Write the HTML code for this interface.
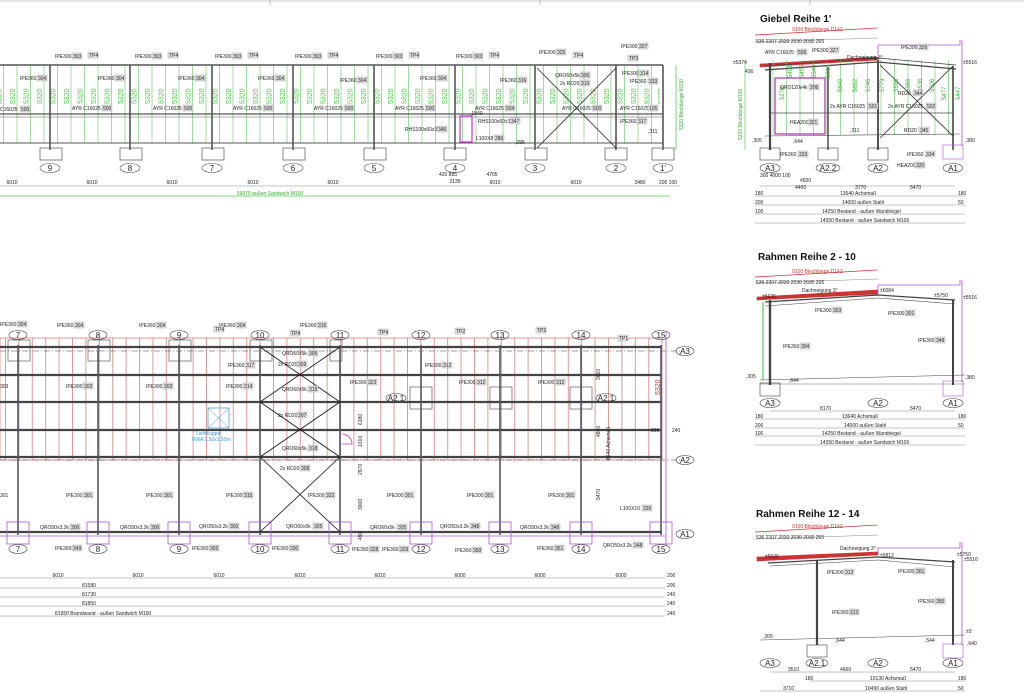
<!DOCTYPE html>
<html><head><meta charset="utf-8"><style>
html,body{margin:0;padding:0;background:#fff;width:1024px;height:693px;overflow:hidden}
svg{display:block;font-family:"Liberation Sans",sans-serif}
.t{font-size:5px;fill:#222}
.b{fill:#e4e4e4;stroke:#999;stroke-width:.4}
.g{fill:#4c4;font-size:7px}
</style></head><body>
<svg width="1024" height="693" viewBox="0 0 1024 693" xmlns="http://www.w3.org/2000/svg">
<defs>
<pattern id="gv" x="3" y="0" width="13.5" height="10" patternUnits="userSpaceOnUse"><line x1="0.5" y1="0" x2="0.5" y2="10" stroke="#7c7" stroke-width=".7"/></pattern>
<pattern id="rv" x="5" y="0" width="13.4" height="10" patternUnits="userSpaceOnUse"><line x1="0.5" y1="0" x2="0.5" y2="10" stroke="#c55" stroke-width=".6"/></pattern>
<pattern id="g53" x="6" y="70" width="13.5" height="40" patternUnits="userSpaceOnUse"><text transform="translate(9,34) rotate(-90)" class="g">5320</text></pattern>
</defs>
<line x1="0" y1="1" x2="1024" y2="1" stroke="#999" stroke-width=".6"/>
<g stroke="#999" stroke-width=".6"><line x1="270" y1="0" x2="270" y2="5"/><line x1="540" y1="0" x2="540" y2="5"/><line x1="810" y1="0" x2="810" y2="5"/></g>

<!-- ===== TOP ELEVATION ===== -->
<rect x="0" y="65" width="663" height="78" fill="url(#gv)"/>
<rect x="0" y="72" width="660" height="36" fill="url(#g53)"/>
<g stroke="#555" fill="none">
<line x1="0" y1="65" x2="663" y2="65" stroke-width="1.6"/>
<line x1="0" y1="114" x2="663" y2="114" stroke-width="1.2"/>
<line x1="0" y1="117" x2="663" y2="117" stroke-width=".5"/>
<line x1="0" y1="143" x2="663" y2="143" stroke-width="1"/>
<g stroke-width="1.6"><line x1="50" y1="65" x2="50" y2="150"/><line x1="130" y1="65" x2="130" y2="150"/><line x1="212" y1="65" x2="212" y2="150"/><line x1="293" y1="65" x2="293" y2="150"/><line x1="374" y1="65" x2="374" y2="150"/><line x1="455" y1="65" x2="455" y2="150"/><line x1="535" y1="65" x2="535" y2="150"/><line x1="616" y1="65" x2="616" y2="150"/><line x1="663" y1="65" x2="663" y2="150"/></g>
<g stroke-width=".7"><rect x="40" y="148" width="22" height="12"/><rect x="120" y="148" width="22" height="12"/><rect x="202" y="148" width="22" height="12"/><rect x="283" y="148" width="22" height="12"/><rect x="364" y="148" width="22" height="12"/><rect x="444" y="148" width="22" height="12"/><rect x="525" y="148" width="22" height="12"/><rect x="605" y="148" width="22" height="12"/><rect x="652" y="148" width="22" height="12"/></g>
<g stroke="#222" stroke-width=".8"><line x1="537" y1="68" x2="616" y2="148"/><line x1="616" y1="68" x2="537" y2="148"/></g>
<rect x="460" y="116" width="12" height="26" stroke="#c3c" stroke-width="1.2"/>
<g stroke-width=".6"><ellipse cx="50" cy="168" rx="10" ry="4.5"/><ellipse cx="130" cy="168" rx="10" ry="4.5"/><ellipse cx="212" cy="168" rx="10" ry="4.5"/><ellipse cx="293" cy="168" rx="10" ry="4.5"/><ellipse cx="374" cy="168" rx="10" ry="4.5"/><ellipse cx="455" cy="168" rx="10" ry="4.5"/><ellipse cx="535" cy="168" rx="10" ry="4.5"/><ellipse cx="616" cy="168" rx="10" ry="4.5"/><ellipse cx="663" cy="168" rx="10" ry="4.5"/></g>
<line x1="0" y1="186" x2="680" y2="186" stroke-width=".5" stroke="#888"/>
<line x1="0" y1="196" x2="670" y2="196" stroke="#5c5" stroke-width=".8"/>
<line x1="676" y1="65" x2="676" y2="150" stroke="#5c5" stroke-width=".8"/>
</g>
<g font-size="8" text-anchor="middle" fill="#222"><text x="50" y="171">9</text><text x="130" y="171">8</text><text x="212" y="171">7</text><text x="293" y="171">6</text><text x="374" y="171">5</text><text x="455" y="171">4</text><text x="535" y="171">3</text><text x="616" y="171">2</text><text x="663" y="171">1'</text></g>
<g class="t" text-anchor="middle"><text x="12" y="184">6010</text><text x="92" y="184">6010</text><text x="172" y="184">6010</text><text x="253" y="184">6010</text><text x="333" y="184">6010</text><text x="495" y="184">6010</text><text x="576" y="184">6010</text><text x="640" y="184">3480</text><text x="668" y="184">200 100</text><text x="448" y="176">420  885</text><text x="492" y="176">4705</text><text x="455" y="183">2135</text><text x="270" y="195" fill="#3a3">59070 außen Sandwich M100</text></g>
<g class="t">
<text x="55" y="58">IPE300</text><rect class="b" x="72" y="53" width="10" height="6"/><text x="73" y="58">303</text><rect class="b" x="88" y="52" width="10" height="6"/><text x="89" y="57">TP4</text>
<text x="135" y="58">IPE300</text><rect class="b" x="152" y="53" width="10" height="6"/><text x="153" y="58">303</text><rect class="b" x="168" y="52" width="10" height="6"/><text x="169" y="57">TP4</text>
<text x="215" y="58">IPE300</text><rect class="b" x="232" y="53" width="10" height="6"/><text x="233" y="58">303</text><rect class="b" x="248" y="52" width="10" height="6"/><text x="249" y="57">TP4</text>
<text x="295" y="58">IPE300</text><rect class="b" x="312" y="53" width="10" height="6"/><text x="313" y="58">303</text><rect class="b" x="328" y="52" width="10" height="6"/><text x="329" y="57">TP4</text>
<text x="376" y="58">IPE300</text><rect class="b" x="393" y="53" width="10" height="6"/><text x="394" y="58">303</text><rect class="b" x="409" y="52" width="10" height="6"/><text x="410" y="57">TP4</text>
<text x="456" y="58">IPE300</text><rect class="b" x="473" y="53" width="10" height="6"/><text x="474" y="58">303</text><rect class="b" x="489" y="52" width="10" height="6"/><text x="490" y="57">TP4</text>
<text x="539" y="54">IPE300</text><rect class="b" x="556" y="49" width="10" height="6"/><text x="557" y="54">325</text><rect class="b" x="573" y="52" width="10" height="6"/><text x="574" y="57">TP4</text>
<text x="621" y="48">IPE300</text><rect class="b" x="638" y="43" width="10" height="6"/><text x="639" y="48">327</text><rect class="b" x="628" y="55" width="10" height="6"/><text x="629" y="60">TP3</text>
<text x="20" y="80">IPE360</text><rect class="b" x="37" y="75" width="10" height="6"/><text x="38" y="80">304</text>
<text x="98" y="80">IPE360</text><rect class="b" x="115" y="75" width="10" height="6"/><text x="116" y="80">304</text>
<text x="178" y="80">IPE360</text><rect class="b" x="195" y="75" width="10" height="6"/><text x="196" y="80">304</text>
<text x="258" y="80">IPE360</text><rect class="b" x="275" y="75" width="10" height="6"/><text x="276" y="80">304</text>
<text x="340" y="82">IPE360</text><rect class="b" x="357" y="77" width="10" height="6"/><text x="358" y="82">304</text>
<text x="420" y="80">IPE360</text><rect class="b" x="437" y="75" width="10" height="6"/><text x="438" y="80">304</text>
<text x="500" y="82">IPE360</text><rect class="b" x="517" y="77" width="10" height="6"/><text x="518" y="82">316</text>
<text x="555" y="77">QRO60x5k</text><rect class="b" x="580" y="72" width="10" height="6"/><text x="581" y="77">305</text>
<text x="560" y="85">2x RD20</text><rect class="b" x="580" y="80" width="10" height="6"/><text x="581" y="85">310</text>
<text x="622" y="75">IPE300</text><rect class="b" x="639" y="70" width="10" height="6"/><text x="640" y="75">314</text>
<text x="630" y="83">IPE360</text><rect class="b" x="648" y="78" width="10" height="6"/><text x="649" y="83">333</text>
<text x="0" y="111">C16025</text><rect class="b" x="20" y="106" width="10" height="6"/><text x="21" y="111">500</text>
<text x="72" y="110">AYR C16025</text><rect class="b" x="102" y="105" width="10" height="6"/><text x="103" y="110">500</text>
<text x="153" y="110">AYR C16025</text><rect class="b" x="183" y="105" width="10" height="6"/><text x="184" y="110">500</text>
<text x="233" y="110">AYR C16025</text><rect class="b" x="263" y="105" width="10" height="6"/><text x="264" y="110">500</text>
<text x="314" y="110">AYR C16025</text><rect class="b" x="344" y="105" width="10" height="6"/><text x="345" y="110">500</text>
<text x="395" y="110">AYR C16025</text><rect class="b" x="425" y="105" width="10" height="6"/><text x="426" y="110">500</text>
<text x="475" y="110">AYR C16025</text><rect class="b" x="505" y="105" width="10" height="6"/><text x="506" y="110">504</text>
<text x="562" y="110">AYR C16025</text><rect class="b" x="592" y="105" width="10" height="6"/><text x="593" y="110">500</text>
<text x="620" y="110">AYR C16025</text><rect class="b" x="648" y="105" width="10" height="6"/><text x="649" y="110">105</text>
<text x="478" y="123">RHS100x60x3</text><rect class="b" x="510" y="118" width="10" height="6"/><text x="511" y="123">347</text>
<text x="405" y="131">RHS100x60x3</text><rect class="b" x="437" y="126" width="10" height="6"/><text x="438" y="131">346</text>
<text x="476" y="140">L100X8</text><rect class="b" x="494" y="135" width="10" height="6"/><text x="495" y="140">286</text>
<text x="620" y="123">IPE360</text><rect class="b" x="637" y="118" width="10" height="6"/><text x="638" y="123">317</text>
<text x="515" y="144">,295</text><text x="648" y="133">,311</text><text x="470" y="115">,1840</text>
<text transform="translate(683,130) rotate(-90)" fill="#3a3">5320 Blechlänge M100</text>
</g>

<!-- ===== PLAN ===== -->
<rect x="0" y="338" width="662" height="122" fill="url(#rv)"/>
<rect x="0" y="338" width="662" height="122" fill="none" stroke="#c55" stroke-width=".6"/>
<g stroke="#444" fill="none">
<g stroke-width="2.2"><line x1="0" y1="347" x2="662" y2="347"/><line x1="0" y1="375" x2="662" y2="375"/><line x1="0" y1="402" x2="662" y2="402"/><line x1="0" y1="430" x2="662" y2="430"/><line x1="0" y1="457" x2="662" y2="457"/><line x1="0" y1="532" x2="662" y2="532"/></g>
<line x1="0" y1="351" x2="680" y2="351" stroke-dasharray="6 2 1 2" stroke-width=".5"/>
<line x1="0" y1="460" x2="680" y2="460" stroke-dasharray="6 2 1 2" stroke-width=".5"/>
<g stroke-width="1.6" stroke="#556"><line x1="18" y1="345" x2="18" y2="535"/><line x1="98" y1="345" x2="98" y2="535"/><line x1="179" y1="345" x2="179" y2="535"/><line x1="260" y1="345" x2="260" y2="535"/><line x1="340" y1="345" x2="340" y2="535"/><line x1="421" y1="345" x2="421" y2="535"/><line x1="500" y1="345" x2="500" y2="535"/><line x1="581" y1="345" x2="581" y2="535"/><line x1="661" y1="345" x2="661" y2="535"/></g>
<g stroke-width=".6"><rect x="8" y="340" width="22" height="21"/><rect x="88" y="340" width="22" height="21"/><rect x="169" y="340" width="22" height="21"/><rect x="250" y="340" width="22" height="21"/><rect x="330" y="340" width="12" height="21"/><rect x="410" y="387" width="22" height="22"/><rect x="490" y="387" width="22" height="22"/><rect x="570" y="387" width="22" height="22"/></g>
<g stroke="#a5c" stroke-width=".8"><rect x="7" y="522" width="22" height="22"/><rect x="87" y="522" width="22" height="22"/><rect x="168" y="522" width="22" height="22"/><rect x="249" y="522" width="22" height="22"/><rect x="329" y="522" width="22" height="22"/><rect x="410" y="522" width="22" height="22"/><rect x="489" y="522" width="22" height="22"/><rect x="570" y="522" width="22" height="22"/><rect x="650" y="522" width="22" height="22"/><line x1="0" y1="536" x2="665" y2="536"/><line x1="666" y1="332" x2="666" y2="545"/></g>
<g stroke="#111" stroke-width=".8"><line x1="260" y1="347" x2="340" y2="402"/><line x1="340" y1="347" x2="260" y2="402"/><line x1="260" y1="402" x2="340" y2="457"/><line x1="340" y1="402" x2="260" y2="457"/><line x1="260" y1="457" x2="340" y2="532"/><line x1="340" y1="457" x2="260" y2="532"/></g>
<rect x="208" y="408" width="21" height="20" stroke="#39c" stroke-width=".7"/>
<g stroke="#39c" stroke-width=".5"><line x1="208" y1="408" x2="229" y2="428"/><line x1="229" y1="408" x2="208" y2="428"/></g>
<path d="M342 434 A10 10 0 0 1 352 444 L342 444" stroke="#c3c" stroke-width=".8"/>
<g stroke-width=".6"><ellipse cx="18" cy="335" rx="9" ry="4.5"/><ellipse cx="98" cy="335" rx="9" ry="4.5"/><ellipse cx="179" cy="335" rx="9" ry="4.5"/><ellipse cx="260" cy="335" rx="9" ry="4.5"/><ellipse cx="340" cy="335" rx="9" ry="4.5"/><ellipse cx="421" cy="335" rx="9" ry="4.5"/><ellipse cx="500" cy="335" rx="9" ry="4.5"/><ellipse cx="581" cy="335" rx="9" ry="4.5"/><ellipse cx="661" cy="335" rx="9" ry="4.5"/>
<ellipse cx="18" cy="549" rx="9" ry="4.5"/><ellipse cx="98" cy="549" rx="9" ry="4.5"/><ellipse cx="179" cy="549" rx="9" ry="4.5"/><ellipse cx="260" cy="549" rx="9" ry="4.5"/><ellipse cx="340" cy="549" rx="9" ry="4.5"/><ellipse cx="421" cy="549" rx="9" ry="4.5"/><ellipse cx="500" cy="549" rx="9" ry="4.5"/><ellipse cx="581" cy="549" rx="9" ry="4.5"/><ellipse cx="661" cy="549" rx="9" ry="4.5"/>
<ellipse cx="685" cy="351" rx="9" ry="4.5"/><ellipse cx="685" cy="460" rx="9" ry="4.5"/><ellipse cx="685" cy="534" rx="9" ry="4.5"/><ellipse cx="396" cy="398" rx="10" ry="4.5"/><ellipse cx="606" cy="398" rx="10" ry="4.5"/></g>
<g stroke="#888" stroke-width=".5"><line x1="0" y1="578" x2="665" y2="578"/><line x1="0" y1="588" x2="665" y2="588"/><line x1="0" y1="597" x2="665" y2="597"/><line x1="0" y1="606" x2="665" y2="606"/><line x1="0" y1="616" x2="665" y2="616"/></g>
</g>
<g font-size="8" text-anchor="middle" fill="#222"><text x="18" y="338">7</text><text x="98" y="338">8</text><text x="179" y="338">9</text><text x="260" y="338">10</text><text x="340" y="338">11</text><text x="421" y="338">12</text><text x="500" y="338">13</text><text x="581" y="338">14</text><text x="661" y="338">15</text>
<text x="18" y="552">7</text><text x="98" y="552">8</text><text x="179" y="552">9</text><text x="260" y="552">10</text><text x="340" y="552">11</text><text x="421" y="552">12</text><text x="500" y="552">13</text><text x="581" y="552">14</text><text x="661" y="552">15</text>
<text x="685" y="354">A3</text><text x="685" y="463">A2</text><text x="685" y="537">A1</text><text x="396" y="401">A2.1</text><text x="606" y="401">A2.1</text></g>
<g class="t">
<text x="0" y="326">IPE360</text><rect class="b" x="17" y="321" width="10" height="6"/><text x="18" y="326">304</text>
<text x="57" y="327">IPE360</text><rect class="b" x="74" y="322" width="10" height="6"/><text x="75" y="327">304</text>
<text x="139" y="327">IPE360</text><rect class="b" x="156" y="322" width="10" height="6"/><text x="157" y="327">304</text>
<text x="219" y="327">IPE360</text><rect class="b" x="236" y="322" width="10" height="6"/><text x="237" y="327">304</text>
<text x="300" y="327">IPE360</text><rect class="b" x="317" y="322" width="10" height="6"/><text x="318" y="327">316</text>
<rect class="b" x="214" y="326" width="10" height="6"/><text x="215" y="331">TP4</text><rect class="b" x="290" y="330" width="10" height="6"/><text x="291" y="335">TP4</text><rect class="b" x="378" y="329" width="10" height="6"/><text x="379" y="334">TP4</text><rect class="b" x="455" y="328" width="10" height="6"/><text x="456" y="333">TP2</text><rect class="b" x="536" y="327" width="10" height="6"/><text x="537" y="332">TP2</text><rect class="b" x="618" y="335" width="10" height="6"/><text x="619" y="340">TP1</text>
<text x="228" y="367">IPE360</text><rect class="b" x="245" y="362" width="10" height="6"/><text x="246" y="367">317</text>
<text x="282" y="355">QRO60x5k</text><rect class="b" x="308" y="350" width="10" height="6"/><text x="309" y="355">305</text>
<text x="278" y="366">2x RD20</text><rect class="b" x="297" y="361" width="10" height="6"/><text x="298" y="366">309</text>
<text x="282" y="391">QRO60x5k</text><rect class="b" x="308" y="386" width="10" height="6"/><text x="309" y="391">319</text>
<text x="278" y="417">2x RD20</text><rect class="b" x="297" y="412" width="10" height="6"/><text x="298" y="417">307</text>
<text x="282" y="450">QRO60x5k</text><rect class="b" x="308" y="445" width="10" height="6"/><text x="309" y="450">318</text>
<text x="280" y="470">2x RD20</text><rect class="b" x="300" y="465" width="10" height="6"/><text x="301" y="470">308</text>
<text x="0" y="388">303</text>
<text x="66" y="388">IPE300</text><rect class="b" x="83" y="383" width="10" height="6"/><text x="84" y="388">303</text>
<text x="146" y="388">IPE300</text><rect class="b" x="163" y="383" width="10" height="6"/><text x="164" y="388">303</text>
<text x="226" y="388">IPE300</text><rect class="b" x="243" y="383" width="10" height="6"/><text x="244" y="388">314</text>
<text x="350" y="384">IPE300</text><rect class="b" x="367" y="379" width="10" height="6"/><text x="368" y="384">323</text>
<text x="459" y="384">IPE300</text><rect class="b" x="476" y="379" width="10" height="6"/><text x="477" y="384">312</text>
<text x="538" y="384">IPE300</text><rect class="b" x="555" y="379" width="10" height="6"/><text x="556" y="384">312</text>
<text x="425" y="367">IPE300</text><rect class="b" x="442" y="362" width="10" height="6"/><text x="443" y="367">312</text>
<text x="0" y="497">301</text>
<text x="66" y="497">IPE300</text><rect class="b" x="83" y="492" width="10" height="6"/><text x="84" y="497">301</text>
<text x="146" y="497">IPE300</text><rect class="b" x="163" y="492" width="10" height="6"/><text x="164" y="497">301</text>
<text x="226" y="497">IPE300</text><rect class="b" x="243" y="492" width="10" height="6"/><text x="244" y="497">315</text>
<text x="308" y="497">IPE300</text><rect class="b" x="325" y="492" width="10" height="6"/><text x="326" y="497">322</text>
<text x="387" y="497">IPE300</text><rect class="b" x="404" y="492" width="10" height="6"/><text x="405" y="497">301</text>
<text x="467" y="497">IPE300</text><rect class="b" x="484" y="492" width="10" height="6"/><text x="485" y="497">301</text>
<text x="548" y="497">IPE300</text><rect class="b" x="565" y="492" width="10" height="6"/><text x="566" y="497">301</text>
<text x="620" y="510">L100X10</text><rect class="b" x="642" y="505" width="10" height="6"/><text x="643" y="510">335</text>
<text x="40" y="529">QRO50x3.2k</text><rect class="b" x="70" y="524" width="10" height="6"/><text x="71" y="529">300</text>
<text x="120" y="529">QRO50x3.2k</text><rect class="b" x="150" y="524" width="10" height="6"/><text x="151" y="529">300</text>
<text x="199" y="528">QRO50x3.2k</text><rect class="b" x="229" y="523" width="10" height="6"/><text x="230" y="528">300</text>
<text x="286" y="528">QRO60x5k</text><rect class="b" x="313" y="523" width="10" height="6"/><text x="314" y="528">305</text>
<text x="370" y="529">QRO60x5k</text><rect class="b" x="397" y="524" width="10" height="6"/><text x="398" y="529">305</text>
<text x="440" y="528">QRO50x3.2k</text><rect class="b" x="470" y="523" width="10" height="6"/><text x="471" y="528">348</text>
<text x="520" y="529">QRO50x3.2k</text><rect class="b" x="550" y="524" width="10" height="6"/><text x="551" y="529">348</text>
<text x="603" y="547">QRO50x3.2k</text><rect class="b" x="633" y="542" width="10" height="6"/><text x="634" y="547">348</text>
<text x="55" y="550">IPE360</text><rect class="b" x="72" y="545" width="10" height="6"/><text x="73" y="550">349</text>
<text x="192" y="550">IPE360</text><rect class="b" x="209" y="545" width="10" height="6"/><text x="210" y="550">302</text>
<text x="272" y="550">IPE360</text><rect class="b" x="289" y="545" width="10" height="6"/><text x="290" y="550">330</text>
<text x="352" y="551">IPE360</text><rect class="b" x="369" y="546" width="10" height="6"/><text x="370" y="551">328</text>
<text x="382" y="551">IPE360</text><rect class="b" x="399" y="546" width="10" height="6"/><text x="400" y="551">329</text>
<text x="455" y="552">IPE360</text><rect class="b" x="472" y="547" width="10" height="6"/><text x="473" y="552">350</text>
<text x="537" y="550">IPE360</text><rect class="b" x="554" y="545" width="10" height="6"/><text x="555" y="550">351</text>
<text x="196" y="435" fill="#39c">Lichtkuppel</text><text x="192" y="441" fill="#39c">RWA 1,50x1,50m</text>
<g text-anchor="middle"><text x="58" y="577">6010</text><text x="138" y="577">6010</text><text x="219" y="577">6010</text><text x="300" y="577">6010</text><text x="380" y="577">6010</text><text x="460" y="577">6000</text><text x="540" y="577">6000</text><text x="621" y="577">6000</text></g>
<text x="82" y="587">81580</text><text x="82" y="596">81730</text><text x="82" y="605">81850</text><text x="55" y="615">81950 Brandwand - außen Sandwich M100</text>
<text x="667" y="577">200</text><text x="667" y="587">200</text><text x="667" y="596">240</text><text x="667" y="605">240</text><text x="667" y="615">240</text>
<text x="651" y="432">200</text><text x="672" y="432">240</text>
<text transform="translate(660,395) rotate(-90)" fill="#c33" font-size="7">5320</text>
<text transform="translate(362,425) rotate(-90)">6180</text><text transform="translate(362,447) rotate(-90)">1010</text><text transform="translate(362,475) rotate(-90)">2970</text><text transform="translate(362,510) rotate(-90)">3000</text><text transform="translate(362,540) rotate(-90)">490</text>
<text transform="translate(600,380) rotate(-90)">3610</text><text transform="translate(600,437) rotate(-90)">4860</text><text transform="translate(600,500) rotate(-90)">5470</text><text transform="translate(610,460) rotate(-90)">8640 Achsmaß</text>
</g>

<!-- ===== RIGHT ===== -->
<g font-size="10" font-weight="bold" fill="#111"><text x="760" y="22">Giebel Reihe 1'</text><text x="758" y="260">Rahmen Reihe 2 - 10</text><text x="756" y="517">Rahmen Reihe 12 - 14</text></g>
<g fill="none" stroke="#444">
<line x1="755" y1="35" x2="877" y2="28" stroke="#c33" stroke-width=".8"/>
<line x1="755" y1="42" x2="878" y2="38" stroke="#888" stroke-width=".5"/>
<polygon points="760,64 878,57 878,60 760,67" fill="#c33" stroke="#c33" stroke-width=".6"/>
<rect x="765" y="60" width="193" height="75" fill="url(#gv)" stroke="none"/>
<polyline points="765,70 878,62 956,69" stroke-width="1.2"/>
<polyline points="765,66 878,58 956,65" stroke-width=".8"/>
<line x1="770" y1="63" x2="770" y2="150" stroke-width="2.2"/><line x1="828" y1="67" x2="828" y2="150" stroke-width="1.4"/><line x1="878" y1="60" x2="878" y2="150" stroke-width="1.8"/><line x1="953" y1="66" x2="953" y2="150" stroke-width="1.6"/>
<line x1="770" y1="113" x2="953" y2="113" stroke-width=".8"/><line x1="765" y1="136" x2="960" y2="134" stroke-width=".6"/>
<rect x="775" y="78" width="50" height="56" stroke="#a3a" stroke-width="1.2"/>
<polyline points="878,55 878,45 960,45 960,40" stroke="#a5c" stroke-width=".8"/><line x1="962" y1="40" x2="962" y2="146" stroke="#a5c" stroke-width=".8"/>
<g stroke="#222" stroke-width=".8"><line x1="880" y1="65" x2="953" y2="136"/><line x1="953" y1="66" x2="880" y2="138"/></g>
<g stroke-width=".6"><rect x="760" y="148" width="20" height="12"/><rect x="818" y="148" width="20" height="12"/><rect x="868" y="148" width="20" height="12"/><rect x="943" y="145" width="20" height="14" stroke="#a5c"/>
<ellipse cx="770" cy="168" rx="10" ry="4.5"/><ellipse cx="828" cy="168" rx="12" ry="4.5"/><ellipse cx="878" cy="168" rx="10" ry="4.5"/><ellipse cx="953" cy="168" rx="10" ry="4.5"/></g>
<g stroke="#888" stroke-width=".5"><line x1="760" y1="186" x2="955" y2="186"/><line x1="755" y1="196" x2="965" y2="196"/><line x1="755" y1="205" x2="965" y2="205"/><line x1="755" y1="214" x2="965" y2="214"/><line x1="755" y1="223" x2="965" y2="223"/></g>
<line x1="745" y1="60" x2="745" y2="150" stroke="#5c5" stroke-width=".7"/>
<line x1="755" y1="277" x2="877" y2="270" stroke="#c33" stroke-width=".8"/>
<line x1="755" y1="283" x2="878" y2="279" stroke="#888" stroke-width=".5"/>
<polygon points="757,297 878,290 878,294 757,300" fill="#c33" stroke="#c33" stroke-width=".6"/>
<polyline points="765,302 878,295 955,300" stroke-width="1.2"/><polyline points="765,306 878,298 955,304" stroke-width=".6"/>
<line x1="770" y1="300" x2="770" y2="385" stroke-width="2.4"/><line x1="953" y1="300" x2="953" y2="385" stroke-width="2"/>
<line x1="763" y1="302" x2="763" y2="380" stroke="#5c5" stroke-width="1.2"/>
<polyline points="878,293 878,285 960,285 960,280" stroke="#a5c" stroke-width=".8"/><line x1="962" y1="280" x2="962" y2="382" stroke="#a5c" stroke-width=".8"/>
<line x1="760" y1="380" x2="965" y2="375" stroke-width=".5"/><line x1="760" y1="384" x2="965" y2="384" stroke-width=".4"/>
<g stroke-width=".6"><rect x="760" y="383" width="20" height="13"/><rect x="943" y="381" width="20" height="15" stroke="#a5c"/>
<ellipse cx="770" cy="403" rx="10" ry="4.5"/><ellipse cx="878" cy="403" rx="10" ry="4.5"/><ellipse cx="953" cy="403" rx="10" ry="4.5"/></g>
<g stroke="#888" stroke-width=".5"><line x1="770" y1="411" x2="955" y2="411"/><line x1="755" y1="419" x2="965" y2="419"/><line x1="755" y1="428" x2="965" y2="428"/><line x1="755" y1="436" x2="965" y2="436"/><line x1="755" y1="445" x2="965" y2="445"/></g>
<line x1="755" y1="532" x2="877" y2="525" stroke="#c33" stroke-width=".8"/>
<line x1="755" y1="539" x2="878" y2="535" stroke="#888" stroke-width=".5"/>
<polygon points="757,557 878,552 878,555 757,561" fill="#c33" stroke="#c33" stroke-width=".6"/>
<polyline points="768,563 878,557 955,562" stroke-width="1.2"/><polyline points="770,566 878,560 955,567" stroke-width=".6"/>
<line x1="817" y1="560" x2="817" y2="645" stroke-width="2.2"/><line x1="953" y1="560" x2="953" y2="645" stroke-width="2"/>
<polyline points="878,554 878,548 960,548 960,542" stroke="#a5c" stroke-width=".8"/><line x1="962" y1="542" x2="962" y2="645" stroke="#a5c" stroke-width=".8"/>
<line x1="760" y1="640" x2="965" y2="635" stroke-width=".5"/>
<g stroke-width=".6"><rect x="807" y="645" width="20" height="12"/><rect x="943" y="644" width="20" height="14" stroke="#a5c"/>
<ellipse cx="770" cy="663" rx="10" ry="4.5"/><ellipse cx="817" cy="663" rx="11" ry="4.5"/><ellipse cx="878" cy="663" rx="10" ry="4.5"/><ellipse cx="953" cy="663" rx="10" ry="4.5"/></g>
<g stroke="#888" stroke-width=".5"><line x1="770" y1="672" x2="955" y2="672"/><line x1="810" y1="681" x2="965" y2="681"/><line x1="760" y1="691" x2="965" y2="691"/></g>
</g>
<g font-size="8" text-anchor="middle" fill="#222"><text x="770" y="171">A3</text><text x="828" y="171">A2.2</text><text x="878" y="171">A2</text><text x="953" y="171">A1</text>
<text x="770" y="406">A3</text><text x="878" y="406">A2</text><text x="953" y="406">A1</text>
<text x="770" y="666">A3</text><text x="817" y="666">A2.1</text><text x="878" y="666">A2</text><text x="953" y="666">A1</text></g>
<g font-size="6" fill="#3b3">
<text transform="translate(784,100) rotate(-90)">5278</text><text transform="translate(792,78) rotate(-90)">5401</text><text transform="translate(804,78) rotate(-90)">5495</text><text transform="translate(816,78) rotate(-90)">5548</text><text transform="translate(830,78) rotate(-90)">5610</text>
<text transform="translate(842,92) rotate(-90)">5640</text><text transform="translate(857,92) rotate(-90)">5692</text><text transform="translate(870,92) rotate(-90)">5745</text><text transform="translate(884,92) rotate(-90)">5773</text>
<text transform="translate(898,92) rotate(-90)">5596</text><text transform="translate(910,92) rotate(-90)">5566</text><text transform="translate(922,92) rotate(-90)">5536</text><text transform="translate(934,92) rotate(-90)">5506</text><text transform="translate(946,100) rotate(-90)">5477</text><text transform="translate(960,100) rotate(-90)">5447</text>
</g>
<g class="t">
<text x="792" y="31" fill="#c33">9100 Blechlänge D142</text><text x="756" y="43">536  2207    2030    2030    2030   265</text>
<text x="765" y="54">AYR C16025</text><rect class="b" x="797" y="49" width="10" height="6"/><text x="798" y="54">506</text>
<text x="812" y="52">IPE300</text><rect class="b" x="829" y="47" width="10" height="6"/><text x="830" y="52">327</text>
<text x="847" y="59">Dachneigung 3°</text>
<text x="901" y="49">IPE300</text><rect class="b" x="918" y="44" width="10" height="6"/><text x="919" y="49">326</text>
<text x="733" y="64">±5374</text><text x="963" y="64">±5516</text><text x="745" y="73">436</text>
<text x="780" y="89">QRO120x4k</text><rect class="b" x="809" y="84" width="10" height="6"/><text x="810" y="89">306</text>
<text x="830" y="108">2x AYR C16025</text><rect class="b" x="868" y="103" width="10" height="6"/><text x="869" y="108">501</text>
<text x="888" y="108">2x AYR C16025</text><rect class="b" x="926" y="103" width="10" height="6"/><text x="927" y="108">502</text>
<text x="898" y="95">RD20</text><rect class="b" x="913" y="90" width="10" height="6"/><text x="914" y="95">344</text>
<text x="904" y="132">RD20</text><rect class="b" x="919" y="127" width="10" height="6"/><text x="920" y="132">345</text>
<text x="790" y="124">HEA200</text><rect class="b" x="808" y="119" width="10" height="6"/><text x="809" y="124">321</text>
<text x="780" y="156">IPE360</text><rect class="b" x="798" y="151" width="10" height="6"/><text x="799" y="156">333</text>
<text x="907" y="156">IPE360</text><rect class="b" x="925" y="151" width="10" height="6"/><text x="926" y="156">334</text>
<text x="897" y="167">HEA200</text><rect class="b" x="915" y="162" width="10" height="6"/><text x="916" y="167">320</text>
<text x="752" y="142">,305</text><text x="965" y="142">,380</text><text x="793" y="143">,644</text><text x="850" y="132">,311</text>
<text x="760" y="177">300      4000      100</text><text x="800" y="182">4500</text>
<text x="795" y="189">4400</text><text x="855" y="189">3770</text><text x="910" y="189">5470</text>
<text x="755" y="195">180</text><text x="840" y="195">13640 Achsmaß</text><text x="958" y="195">180</text>
<text x="755" y="204">200</text><text x="842" y="204">14000 außen Stahl</text><text x="958" y="204">50</text>
<text x="755" y="213">100</text><text x="822" y="213">14250 Bestand - außen Wandriegel</text>
<text x="820" y="222">14350 Bestand - außen Sandwich M100</text>
<text transform="translate(742,140) rotate(-90)" fill="#3a3">5320 Blechlänge M100</text>
<text x="792" y="273" fill="#c33">9100 Blechlänge D142</text><text x="756" y="284">536  2207    2030    2030    2030   265</text>
<text x="802" y="292">Dachneigung 3°</text><text x="762" y="298">±5636</text><text x="880" y="292">±6084</text><text x="934" y="297">±5750</text><text x="963" y="299">±5516</text>
<text x="815" y="312">IPE300</text><rect class="b" x="832" y="307" width="10" height="6"/><text x="833" y="312">303</text>
<text x="888" y="315">IPE300</text><rect class="b" x="905" y="310" width="10" height="6"/><text x="906" y="315">301</text>
<text x="783" y="348">IPE360</text><rect class="b" x="800" y="343" width="10" height="6"/><text x="801" y="348">304</text>
<text x="918" y="342">IPE360</text><rect class="b" x="935" y="337" width="10" height="6"/><text x="936" y="342">349</text>
<text x="746" y="378">,305</text><text x="789" y="382">,644</text><text x="965" y="379">,380</text>
<text x="820" y="410">8170</text><text x="910" y="410">5470</text>
<text x="755" y="418">180</text><text x="842" y="418">13640 Achsmaß</text><text x="958" y="418">180</text>
<text x="755" y="427">200</text><text x="844" y="427">14000 außen Stahl</text><text x="958" y="427">50</text>
<text x="755" y="435">100</text><text x="822" y="435">14250 Bestand - außen Wandriegel</text>
<text x="820" y="444">14350 Bestand - außen Sandwich M100</text>
<text x="792" y="528" fill="#c33">9100 Blechlänge D142</text><text x="756" y="539">536  2207    2030    2030    2030   265</text>
<text x="840" y="550">Dachneigung 3°</text><text x="765" y="558">±5636</text><text x="880" y="557">±5812</text><text x="957" y="556">±5750</text><text x="964" y="561">±5516</text>
<text x="827" y="574">IPE300</text><rect class="b" x="844" y="569" width="10" height="6"/><text x="845" y="574">312</text>
<text x="898" y="573">IPE300</text><rect class="b" x="915" y="568" width="10" height="6"/><text x="916" y="573">301</text>
<text x="832" y="614">IPE360</text><rect class="b" x="849" y="609" width="10" height="6"/><text x="850" y="614">313</text>
<text x="918" y="603">IPE360</text><rect class="b" x="935" y="598" width="10" height="6"/><text x="936" y="603">350</text>
<text x="763" y="638">,305</text><text x="835" y="642">,644</text><text x="925" y="642">,544</text><text x="967" y="645">,640</text><text x="966" y="633">±0</text>
<text x="788" y="671">3510</text><text x="840" y="671">4660</text><text x="910" y="671">5470</text>
<text x="805" y="680">180</text><text x="870" y="680">10130 Achsmaß</text><text x="958" y="680">180</text>
<text x="783" y="690">3710</text><text x="865" y="690">10490 außen Stahl</text><text x="958" y="690">50</text>
</g>
</svg>
</body></html>
